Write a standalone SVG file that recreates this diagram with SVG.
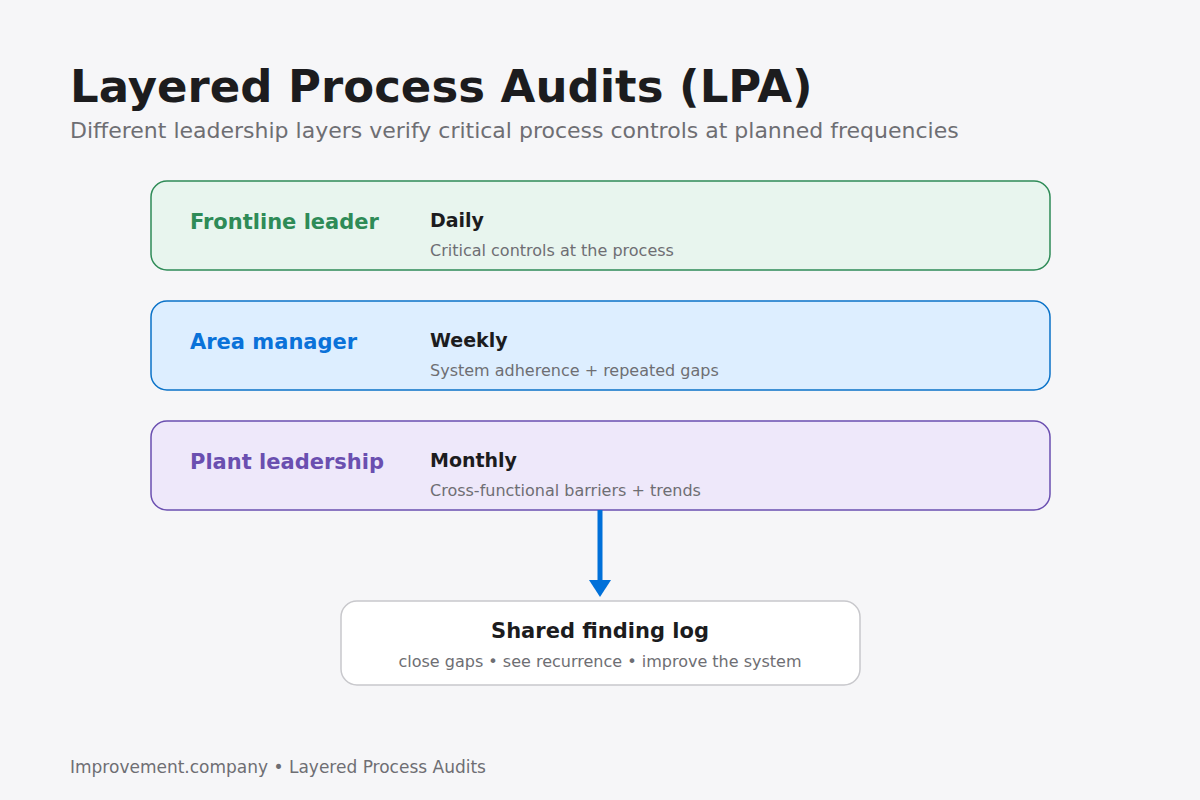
<svg xmlns="http://www.w3.org/2000/svg" width="1200" height="800" viewBox="0 0 1200 800">
<style>
text{font-family:"DejaVu Sans",sans-serif}
.lbl{font-size:21px;font-weight:bold}
.freq{font-size:19px;font-weight:bold;fill:#1c1c1e}
.desc{font-size:16px;fill:#6e6e73}
</style>
<defs>
<marker id="ah" markerWidth="6" markerHeight="6" refX="3" refY="3" orient="auto" markerUnits="userSpaceOnUse" viewBox="0 0 6 6"><path d="M0,0 L6,3 L0,6 Z" fill="#0070d9"/></marker>
</defs>
<rect width="1200" height="800" fill="#f6f6f8"/>
<text x="70" y="102" font-size="45" font-weight="bold" fill="#1c1c1e">Layered Process Audits (LPA)</text>
<text x="70" y="138" font-size="22" fill="#6e6e73">Different leadership layers verify critical process controls at planned frequencies</text>
<g id="frontline">
<rect x="151" y="181" width="899" height="89" rx="16" fill="#e8f5ee" stroke="#2e8b57" stroke-width="1.5"/>
<text x="190" y="229" class="lbl" fill="#2e8b57">Frontline leader</text>
<text x="430" y="227" class="freq">Daily</text>
<text x="430" y="256" class="desc">Critical controls at the process</text>
</g>
<g id="area">
<rect x="151" y="301" width="899" height="89" rx="16" fill="#ddeeff" stroke="#0a72c8" stroke-width="1.5"/>
<text x="190" y="349" class="lbl" fill="#0a72d9">Area manager</text>
<text x="430" y="347" class="freq">Weekly</text>
<text x="430" y="376" class="desc">System adherence + repeated gaps</text>
</g>
<g id="plant">
<rect x="151" y="421" width="899" height="89" rx="16" fill="#eee8fa" stroke="#6a4fb0" stroke-width="1.5"/>
<text x="190" y="469" class="lbl" fill="#6a4fb0">Plant leadership</text>
<text x="430" y="467" class="freq">Monthly</text>
<text x="430" y="496" class="desc">Cross-functional barriers + trends</text>
</g>
<g id="connectors">
<line x1="600" y1="510" x2="600" y2="584" stroke="#0070d9" stroke-width="5"/>
<path d="M589,580 L611,580 L600,597 Z" fill="#0070d9"/>
</g>
<g id="log">
<rect x="341" y="601" width="519" height="84" rx="16" fill="#ffffff" stroke="#c8c8cc" stroke-width="1.5"/>
<text x="600" y="638" text-anchor="middle" font-size="21" font-weight="bold" fill="#1c1c1e">Shared finding log</text>
<text x="600" y="667" text-anchor="middle" class="desc">close gaps • see recurrence • improve the system</text>
</g>
<text x="70" y="773" font-size="17" fill="#6e6e73">Improvement.company • Layered Process Audits</text>
</svg>
